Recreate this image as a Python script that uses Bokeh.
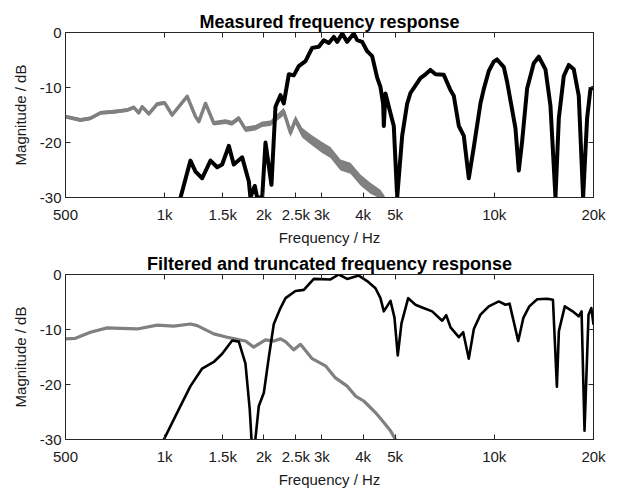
from bokeh.plotting import figure
from bokeh.layouts import column
from bokeh.models import FixedTicker, LinearAxis, LogAxis
from bokeh.embed import file_html
from bokeh.resources import INLINE

# ---------------- data ----------------
x_ticks = [500, 1000, 1500, 2000, 2500, 3000, 4000, 5000, 10000, 20000]
x_tick_labels = ["500", "1k", "1.5k", "2k", "2.5k", "3k", "4k", "5k", "10k", "20k"]
y_ticks = [-30, -20, -10, 0]
y_tick_labels = ["-30", "-20", "-10", "0"]

# Measured response: grey (low band) with band half-width (noise) in dB
meas_grey_f = [500, 555, 595, 639, 701, 769, 806, 834, 854, 895, 949, 1000, 1053, 1170,
               1240, 1269, 1330, 1409, 1529, 1600, 1678, 1758, 1885, 1976, 2094, 2298,
               2408, 2493, 2612, 2769, 3004, 3184, 3415, 3661, 3926, 4210, 4514, 4622]
meas_grey_db = [-15.3, -15.9, -15.6, -14.6, -14.4, -14.1, -13.6, -14.6, -13.5, -14.8, -13.0,
                -12.8, -15.0, -11.6, -15.3, -16.2, -12.9, -16.5, -16.2, -16.5, -15.6, -17.6,
                -17.3, -16.7, -16.5, -14.4, -18.2, -15.9, -18.2, -19.4, -20.9, -21.8, -24.1,
                -24.7, -26.8, -28.3, -29.4, -30.0]
meas_grey_noise = [0.35, 0.35, 0.35, 0.35, 0.35, 0.35, 0.35, 0.35, 0.35, 0.35, 0.35,
                   0.35, 0.35, 0.35, 0.35, 0.35, 0.35, 0.4, 0.45, 0.45, 0.45, 0.5,
                   0.5, 0.5, 0.5, 0.7, 0.8, 0.8, 0.9, 0.9, 1.0, 1.0, 1.0,
                   1.0, 1.0, 1.0, 0.8, 0.5]

# Measured response: black (high band)
meas_black_f = [1117, 1160, 1197, 1240, 1299, 1377, 1443, 1494, 1565, 1620, 1718, 1800, 1820,
                1876, 1907, 1976, 2022, 2108, 2168, 2245, 2298, 2380, 2464, 2552, 2674, 2801,
                2934, 3039, 3147, 3258, 3337, 3456, 3578, 3748, 3837, 3974, 4114, 4260, 4412,
                4514, 4600, 4622, 4676, 4842, 4955, 5074, 5254, 5438, 5567, 5970, 6185, 6400,
                6634, 7027, 7366, 7535, 7806, 8082, 8369, 8669, 9078, 9291, 9624, 9963, 10198,
                10690, 10940, 11593, 11866, 12146, 12578, 13176, 13645, 14298, 14806, 15334,
                15697, 16251, 16826, 17424, 18043, 18600, 19125, 19574, 20000]
meas_black_db = [-30.0, -26.3, -23.3, -25.3, -26.5, -23.3, -24.5, -24.0, -20.6, -24.0, -22.7,
                 -27.1, -30.0, -27.9, -30.0, -30.0, -20.0, -27.7, -13.5, -11.4, -12.9, -7.6,
                 -7.8, -6.1, -5.2, -2.8, -2.6, -1.4, -1.9, -0.8, -1.7, -0.2, -1.7, -0.2, -1.4,
                 -1.7, -3.4, -4.3, -8.2, -9.9, -13.0, -17.0, -11.1, -14.7, -17.0, -30.0, -18.8,
                 -13.0, -11.0, -8.3, -7.6, -6.8, -7.6, -7.7, -10.5, -11.5, -17.0, -18.8, -26.5,
                 -20.8, -12.9, -10.3, -7.0, -5.3, -4.9, -6.3, -9.0, -17.4, -25.1, -19.8, -10.2,
                 -5.6, -4.4, -6.7, -13.3, -30.0, -15.6, -7.9, -5.9, -6.7, -11.5, -30.0, -15.6,
                 -10.3, -10.0]

# Filtered and truncated response: grey
filt_grey_f = [500, 536, 595, 669, 734, 825, 949, 1066, 1197, 1255, 1409, 1547, 1659, 1758,
               1863, 2022, 2143, 2245, 2326, 2464, 2582, 2801, 3075, 3297, 3578, 3792, 4018,
               4360, 4622, 4842, 5014]
filt_grey_db = [-11.7, -11.6, -10.5, -9.7, -9.8, -9.9, -9.2, -9.4, -9.0, -9.3, -10.8, -11.4,
                -11.8, -12.1, -13.2, -11.9, -12.1, -11.7, -12.2, -13.7, -12.7, -15.3, -16.6,
                -18.8, -20.3, -22.1, -23.0, -25.1, -26.9, -28.4, -30.0]

# Filtered and truncated response: black
filt_black_f = [994, 1091, 1197, 1299, 1409, 1494, 1602, 1678, 1758, 1811, 1838, 1876, 1930,
                1999, 2070, 2143, 2245, 2326, 2493, 2643, 2834, 3184, 3375, 3578, 3881, 4114,
                4360, 4514, 4622, 4842, 4978, 5095, 5229, 5479, 5765, 6042, 6479, 6949, 7147,
                7366, 7806, 8047, 8369, 8669, 9078, 9624, 10320, 10814, 11125, 11820, 12251,
                12771, 13495, 14454, 15066, 15487, 15704, 16366, 17290, 18028, 18400, 18785,
                19316, 19700, 20000]
filt_black_db = [-30.0, -25.1, -20.3, -17.1, -15.9, -14.4, -12.0, -12.2, -16.2, -24.5, -31.0,
                 -31.0, -23.9, -21.5, -15.0, -9.0, -6.1, -4.3, -3.0, -2.8, -0.8, -0.9, 0.0,
                 -0.8, -0.2, -1.2, -2.5, -4.3, -6.7, -4.8, -7.8, -14.7, -8.9, -4.3, -5.5, -6.0,
                 -6.7, -8.4, -7.4, -9.6, -11.4, -10.5, -15.3, -9.9, -7.3, -5.8, -4.9, -5.5,
                 -5.3, -12.1, -7.9, -5.8, -4.5, -4.4, -4.6, -20.4, -10.3, -5.8, -6.7, -7.6,
                 -6.7, -28.4, -7.3, -6.1, -9.1]

GREY = "#808080"
TXT = "#1a1a1a"
FONT = "Liberation Sans"


def make_fig(title, height, top, bottom):
    p = figure(width=618, height=height, x_axis_type="log", x_range=(500, 20000),
               y_range=(-30, 0), output_backend="svg", toolbar_location=None,
               min_border_left=65, min_border_right=25, min_border_top=top,
               min_border_bottom=bottom, background_fill_color="white",
               border_fill_color="white")
    p.xgrid.visible = False
    p.ygrid.visible = False
    p.outline_line_color = "#262626"
    p.outline_line_width = 1
    p.title.text = title
    p.title.text_font = FONT
    p.title.text_font_size = "18px"
    p.title.text_font_style = "bold"
    p.title.text_color = "black"
    p.title.align = "center"
    p.title.standoff = 2

    xa = p.xaxis[0]
    xa.ticker = FixedTicker(ticks=x_ticks, minor_ticks=[])
    xa.major_label_overrides = dict(zip(x_ticks, x_tick_labels))
    xa.axis_label = "Frequency / Hz"
    ya = p.yaxis[0]
    ya.ticker = FixedTicker(ticks=y_ticks, minor_ticks=[])
    ya.major_label_overrides = dict(zip(y_ticks, y_tick_labels))
    ya.axis_label = "Magnitude / dB"
    for ax in (xa, ya):
        ax.major_tick_in = 5
        ax.major_tick_out = 0
        ax.minor_tick_in = 0
        ax.minor_tick_out = 0
        ax.axis_line_color = "#262626"
        ax.major_tick_line_color = "#262626"
        ax.major_label_text_font = FONT
        ax.major_label_text_font_size = "15px"
        ax.major_label_text_color = TXT
        ax.axis_label_text_font = FONT
        ax.axis_label_text_font_size = "15px"
        ax.axis_label_text_font_style = "normal"
        ax.axis_label_text_color = TXT
    xa.major_label_standoff = 8
    xa.axis_label_standoff = 3
    ya.major_label_standoff = 4
    ya.axis_label_standoff = 8

    # mirrored ticks on the top and right
    ra = LinearAxis(ticker=FixedTicker(ticks=y_ticks, minor_ticks=[]),
                    major_label_overrides={t: "" for t in y_ticks})
    ta = LogAxis(ticker=FixedTicker(ticks=x_ticks, minor_ticks=[]),
                 major_label_overrides={t: "" for t in x_ticks})
    for ax in (ra, ta):
        ax.major_tick_in = 5
        ax.major_tick_out = 0
        ax.minor_tick_in = 0
        ax.minor_tick_out = 0
        ax.axis_line_color = None
        ax.major_tick_line_color = "#262626"
        ax.major_label_text_font_size = "0px"
        ax.major_label_standoff = 0
    p.add_layout(ra, "right")
    p.add_layout(ta, "above")
    return p


p1 = make_fig("Measured frequency response", 248, 32, 47)
lo = [y - s for y, s in zip(meas_grey_db, meas_grey_noise)]
hi = [y + s for y, s in zip(meas_grey_db, meas_grey_noise)]
p1.varea(x=meas_grey_f, y1=lo, y2=hi, fill_color=GREY)
p1.line(meas_grey_f, meas_grey_db, line_color=GREY, line_width=3.5, line_join="round")
p1.line(meas_black_f, meas_black_db, line_color="black", line_width=4, line_join="round")

p2 = make_fig("Filtered and truncated frequency response", 242, 26, 48)
p2.line(filt_grey_f, filt_grey_db, line_color=GREY, line_width=3.2, line_join="round")
p2.line(filt_black_f, filt_black_db, line_color="black", line_width=2.6, line_join="round")

layout = column(p1, p2, spacing=0)
open("out.html", "w").write(file_html(layout, INLINE))
